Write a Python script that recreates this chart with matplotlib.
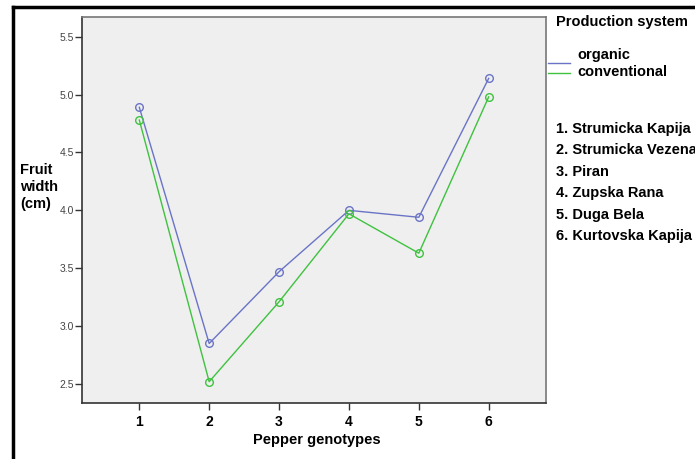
import matplotlib.pyplot as plt
from matplotlib.lines import Line2D

plt.rcParams['font.family'] = ['Liberation Sans', 'DejaVu Sans']

genotypes = [1, 2, 3, 4, 5, 6]
organic = [4.89, 2.85, 3.47, 4.00, 3.94, 5.14]
conventional = [4.78, 2.52, 3.21, 3.97, 3.63, 4.98]
genotype_names = ['1. Strumicka Kapija', '2. Strumicka Vezena', '3. Piran',
                  '4. Zupska Rana', '5. Duga Bela', '6. Kurtovska Kapija']

blue = '#6a74c6'
green = '#3fc23f'

fig = plt.figure(figsize=(6.95, 4.59), dpi=100)
ax = fig.add_axes([82 / 695, 56 / 459, 464 / 695, 386 / 459])
ax.set_facecolor('#efefef')

ax.plot(genotypes, organic, color=blue, lw=1, marker='o', ms=5.5,
        mfc='none', mec=blue, mew=1)
ax.plot(genotypes, conventional, color=green, lw=1, marker='o', ms=5.5,
        mfc='none', mec=green, mew=1)

ax.set_xlim(0.18, 6.82)
ax.set_ylim(2.336, 5.67)
ax.set_xticks(genotypes)
ax.set_xticklabels([str(g) for g in genotypes], fontweight='bold', fontsize=10)
ax.set_yticks([2.5, 3.0, 3.5, 4.0, 4.5, 5.0, 5.5])
ax.set_yticklabels(['2.5', '3.0', '3.5', '4.0', '4.5', '5.0', '5.5'], fontsize=7.5, color='#444444')
ax.tick_params(axis='both', length=5, width=1, color='#333333')
ax.tick_params(axis='y', pad=1)

for side in ['left', 'bottom']:
    ax.spines[side].set_color('#333333')
    ax.spines[side].set_linewidth(1.2)
for side in ['right', 'top']:
    ax.spines[side].set_color('#777777')
    ax.spines[side].set_linewidth(1.2)

fig.text(317 / 695, 1 - 440 / 459, 'Pepper genotypes', ha='center', va='center',
         fontsize=10.5, fontweight='bold')
fig.text(20 / 695, 1 - 187 / 459, 'Fruit\nwidth\n(cm)', ha='left', va='center',
         fontsize=10.5, fontweight='bold', linespacing=1.3)

# legend area
fig.text(556 / 695, 1 - 22 / 459, 'Production system', ha='left', va='center',
         fontsize=10.5, fontweight='bold')
fig.add_artist(Line2D([548 / 695, 570 / 695], [1 - 63 / 459, 1 - 63 / 459], color=blue, lw=1))
fig.add_artist(Line2D([548 / 695, 570 / 695], [1 - 73 / 459, 1 - 73 / 459], color=green, lw=1))
fig.text(577 / 695, 1 - 55 / 459, 'organic', ha='left', va='center', fontsize=10.5, fontweight='bold')
fig.text(577 / 695, 1 - 72 / 459, 'conventional', ha='left', va='center', fontsize=10.5, fontweight='bold')
for i, name in enumerate(genotype_names):
    fig.text(556 / 695, 1 - (129 + i * 21.4) / 459, name, ha='left', va='center',
             fontsize=10.5, fontweight='bold')

# outer frame (left and top only)
fig.add_artist(Line2D([13 / 695, 13 / 695], [0, 1 - 7 / 459], color='black', lw=2.5))
fig.add_artist(Line2D([13 / 695, 1], [1 - 7 / 459, 1 - 7 / 459], color='black', lw=2.5))

fig.savefig('out.png', dpi=100)
